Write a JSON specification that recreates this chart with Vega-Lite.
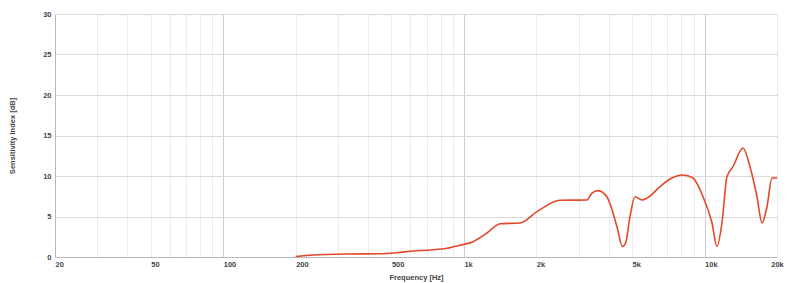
{
  "$schema": "https://vega.github.io/schema/vega-lite/v6.json",
  "autosize": {"type": "none"},
  "padding": {"left": 55, "top": 14, "right": 10, "bottom": 26},
  "width": 722,
  "height": 243,
  "background": "white",
  "config": {
    "view": {"stroke": null},
    "font": "Liberation Sans",
    "axis": {
      "labelFont": "Liberation Sans",
      "titleFont": "Liberation Sans",
      "labelFontSize": 7.5,
      "titleFontSize": 7.5,
      "labelColor": "#444",
      "titleColor": "#444",
      "labelFontWeight": "bold",
      "titleFontWeight": "bold",
      "domainColor": "#b8b8b8",
      "ticks": false
    }
  },
  "data": {
    "values": [
      {"f": 200, "db": 0.05},
      {"f": 236, "db": 0.25},
      {"f": 327, "db": 0.37},
      {"f": 448, "db": 0.4},
      {"f": 527, "db": 0.53},
      {"f": 615, "db": 0.74},
      {"f": 723, "db": 0.86},
      {"f": 851, "db": 1.07},
      {"f": 964, "db": 1.45},
      {"f": 1091, "db": 1.89},
      {"f": 1247, "db": 2.96},
      {"f": 1413, "db": 4.1},
      {"f": 1710, "db": 4.2},
      {"f": 2012, "db": 5.6},
      {"f": 2508, "db": 7.0},
      {"f": 3246, "db": 7.04},
      {"f": 3406, "db": 7.9},
      {"f": 3608, "db": 8.2},
      {"f": 3932, "db": 7.4},
      {"f": 4326, "db": 3.74},
      {"f": 4560, "db": 1.3},
      {"f": 4700, "db": 1.73},
      {"f": 4900, "db": 4.98},
      {"f": 5140, "db": 7.44},
      {"f": 5496, "db": 7.04},
      {"f": 5768, "db": 7.28},
      {"f": 6530, "db": 8.68},
      {"f": 7186, "db": 9.63},
      {"f": 8136, "db": 10.12},
      {"f": 8954, "db": 9.75},
      {"f": 9850, "db": 7.44},
      {"f": 10740, "db": 4.2},
      {"f": 11260, "db": 1.3},
      {"f": 11812, "db": 4.2},
      {"f": 12392, "db": 9.91},
      {"f": 13124, "db": 11.15},
      {"f": 14444, "db": 13.46},
      {"f": 15446, "db": 11.15},
      {"f": 16516, "db": 7.44},
      {"f": 17324, "db": 4.2},
      {"f": 18174, "db": 6.2},
      {"f": 19064, "db": 9.75},
      {"f": 20000, "db": 9.75}
    ]
  },
  "mark": {"type": "line", "color": "#e4482a", "strokeWidth": 1.6, "interpolate": "monotone", "clip": true},
  "encoding": {
    "x": {
      "field": "f",
      "type": "quantitative",
      "scale": {"type": "log", "domain": [20, 20000], "nice": false},
      "axis": {
        "title": "Frequency [Hz]",
        "titlePadding": 6,
        "values": [20, 30, 40, 50, 60, 70, 80, 90, 100, 200, 300, 400, 500, 600, 700, 800, 900, 1000, 2000, 3000, 4000, 5000, 6000, 7000, 8000, 9000, 10000, 20000],
        "labelExpr": "indexof([20,50,100,200,500,1000,2000,5000,10000,20000], datum.value) >= 0 ? (datum.value >= 1000 ? (datum.value/1000) + 'k' : '' + datum.value) : ''",
        "labelAlign": {"condition": {"test": "datum.value == 20000", "value": "center"}, "value": "left"},
        "labelPadding": 3,
        "labelOverlap": false,
        "labelFlush": false,
        "grid": true,
        "gridColor": {"condition": {"test": "datum.value == 100 || datum.value == 1000 || datum.value == 10000", "value": "#cfcfcf"}, "value": "#ececec"},
        "gridWidth": 1
      }
    },
    "y": {
      "field": "db",
      "type": "quantitative",
      "scale": {"domain": [0, 30], "nice": false},
      "axis": {
        "title": "Sensitivity Index [dB]",
        "titlePadding": 26,
        "values": [0, 5, 10, 15, 20, 25, 30],
        "labelPadding": 4,
        "grid": true,
        "gridColor": "#dadada"
      }
    }
  }
}
